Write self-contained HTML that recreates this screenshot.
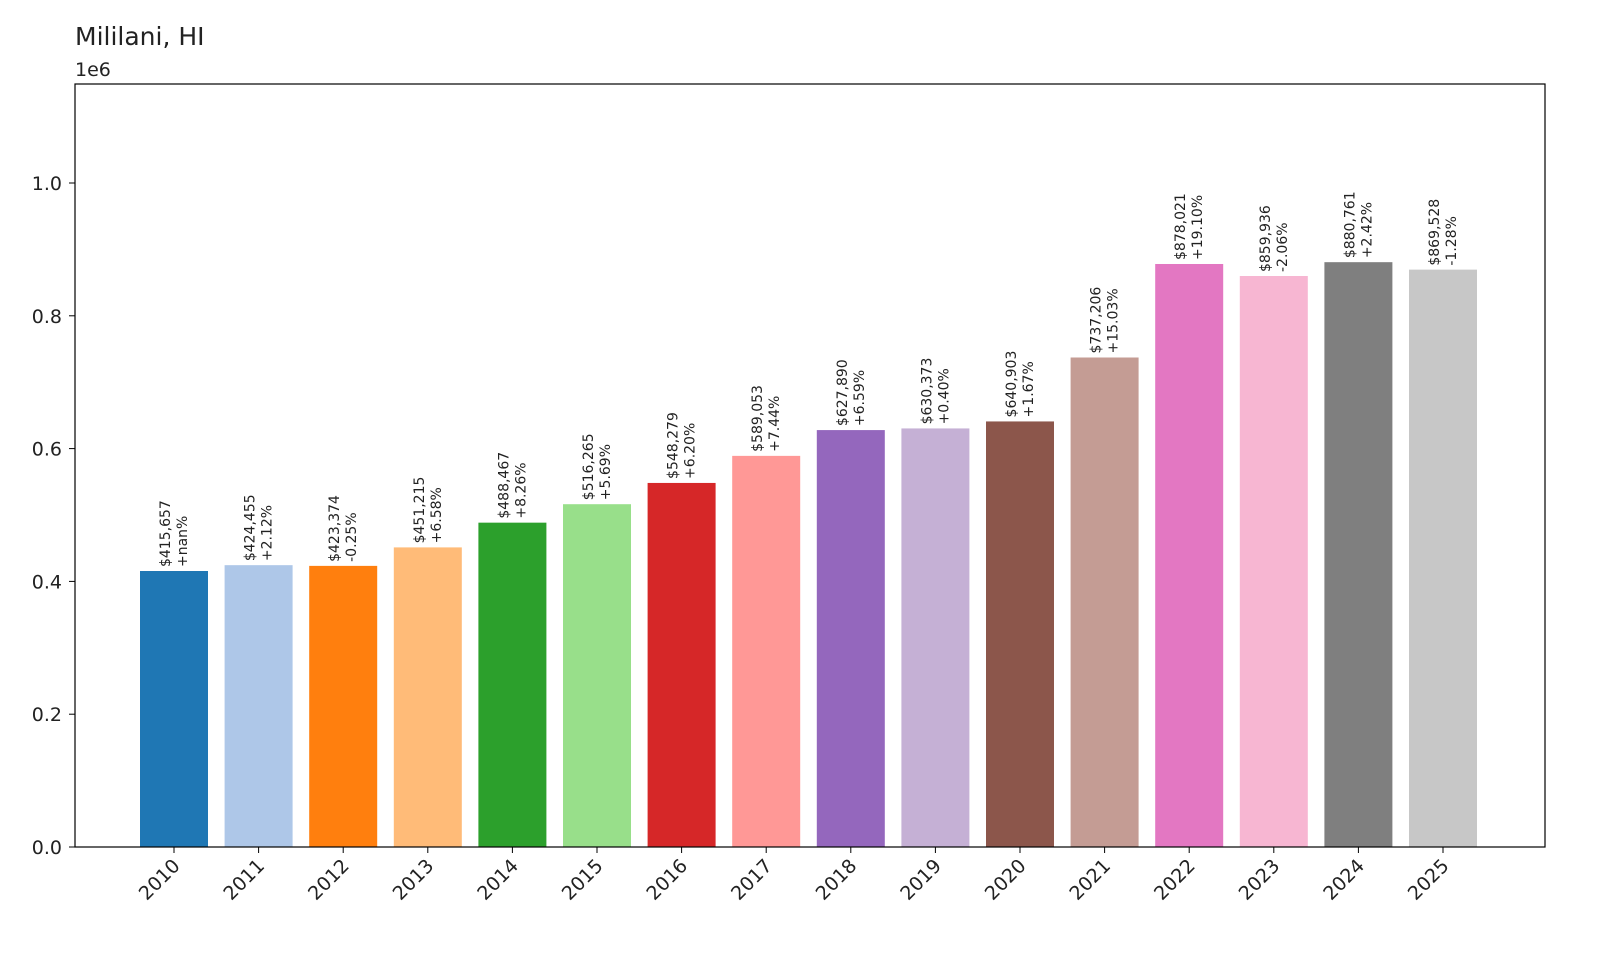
<!DOCTYPE html>
<html><head><meta charset="utf-8"><style>body{margin:0;background:#fff}svg{display:block;font-family:"DejaVu Sans","Liberation Sans",sans-serif}</style></head>
<body>
<svg id="chart" width="1600" height="960">
<text x="75" y="45" font-size="25" fill="#222">Mililani, HI</text>
<text x="75" y="76" font-size="19" fill="#222">1e6</text>
<g id="bars"></g>
<rect x="75" y="84" width="1470" height="763" fill="none" stroke="#000" stroke-width="1.2"/>
<g id="axes"></g>
</svg>
<script>
const years=["2010","2011","2012","2013","2014","2015","2016","2017","2018","2019","2020","2021","2022","2023","2024","2025"];
const values=[415657,424455,423374,451215,488467,516265,548279,589053,627890,630373,640903,737206,878021,859936,880761,869528];
const changes=["+nan%","+2.12%","-0.25%","+6.58%","+8.26%","+5.69%","+6.20%","+7.44%","+6.59%","+0.40%","+1.67%","+15.03%","+19.10%","-2.06%","+2.42%","-1.28%"];
const yTicks=[0,0.2,0.4,0.6,0.8,1.0];
const colors=["#1f77b4","#aec7e8","#ff7f0e","#ffbb78","#2ca02c","#98df8a","#d62728","#ff9896","#9467bd","#c5b0d5","#8c564b","#c49c94","#e377c2","#f7b6d2","#7f7f7f","#c7c7c7"];
const NS="http://www.w3.org/2000/svg";
const y0=847,pxPer=664e-6;
const yScale=v=>y0-v*pxPer;
const xScale=i=>174+i*84.6;
const bw=68;
const bars=document.getElementById('bars'),axes=document.getElementById('axes');
function mk(tag,attrs,parent){const e=document.createElementNS(NS,tag);for(const k in attrs)e.setAttribute(k,attrs[k]);parent.appendChild(e);return e;}
values.forEach((v,i)=>{
  const cx=xScale(i),yt=yScale(v);
  const r=mk('rect',{x:cx-bw/2,y:yt,width:bw,height:y0-yt,fill:colors[i]},bars);
  
  
  const t=mk('text',{transform:`translate(${cx},${yt-4}) rotate(-90)`,'font-size':'14',fill:'#222'},bars);
  
  
  const a=mk('tspan',{x:0,y:-4},t);a.textContent='$'+v.toLocaleString('en-US');
  const b=mk('tspan',{x:0,y:13},t);b.textContent=changes[i];
  mk('line',{x1:cx,x2:cx,y1:y0,y2:y0+6,stroke:'#000'},axes);
  const xl=mk('text',{transform:`translate(${cx+7},${y0+20}) rotate(-45)`,'text-anchor':'end','font-size':'19',fill:'#222'},axes);
  
  
  xl.textContent=years[i];
});
yTicks.forEach(t=>{
  const y=yScale(t*1e6);
  mk('line',{x1:69,x2:75,y1:y,y2:y,stroke:'#000'},axes);
  const l=mk('text',{x:62,y:y+7,'text-anchor':'end','font-size':'19',fill:'#222'},axes);
  
  
  l.textContent=t.toFixed(1);
});
</script>
</body></html>
